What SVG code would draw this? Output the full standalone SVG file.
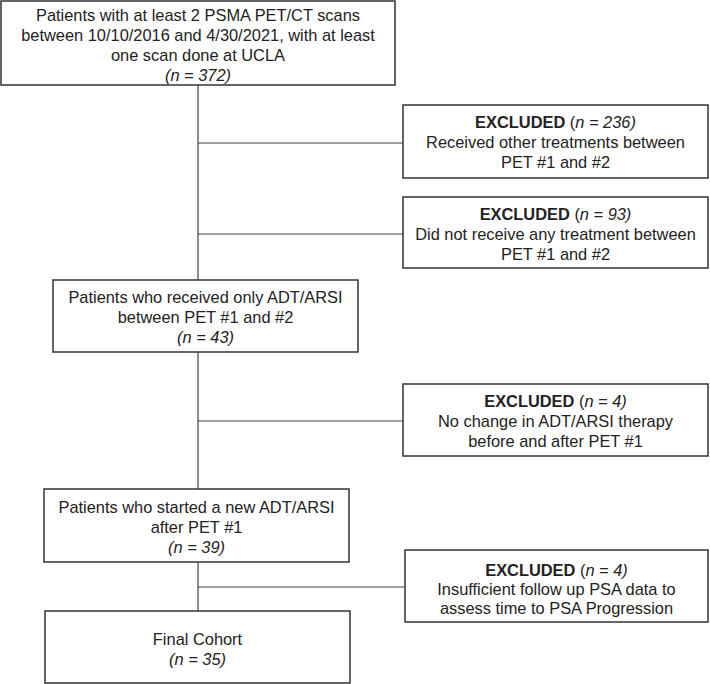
<svg xmlns="http://www.w3.org/2000/svg" width="710" height="684" viewBox="0 0 710 684">
<style>
.box{fill:#fff;stroke:#333;stroke-width:1.5}
.ln{stroke:#444;stroke-width:1.2;fill:none}
text{font-family:"Liberation Sans",Arial,sans-serif;font-size:16.4px;fill:#222;text-anchor:middle}
.b{font-weight:bold}
.i{font-style:italic}
</style>
<rect width="710" height="684" fill="#fff"/>
<g id="connectors">
<line class="ln" x1="198" y1="85" x2="198" y2="280"/>
<line class="ln" x1="198" y1="143" x2="403" y2="143"/>
<line class="ln" x1="198" y1="234" x2="403" y2="234"/>
<line class="ln" x1="198" y1="352" x2="198" y2="489"/>
<line class="ln" x1="198" y1="421" x2="403" y2="421"/>
<line class="ln" x1="198" y1="562" x2="198" y2="611"/>
<line class="ln" x1="198" y1="587" x2="405" y2="587"/>
</g>
<g id="n1">
<rect class="box" x="1" y="1" width="394" height="84"/>
<text x="198" y="21">Patients with at least 2 PSMA PET/CT scans</text>
<text x="198" y="41">between 10/10/2016 and 4/30/2021, with at least</text>
<text x="198" y="61">one scan done at UCLA</text>
<text x="198" y="81" class="i">(n = 372)</text>
</g>
<g id="x1">
<rect class="box" x="403" y="105" width="305" height="73"/>
<text x="555.5" y="128"><tspan class="b">EXCLUDED</tspan> (<tspan class="i">n = 236)</tspan></text>
<text x="555.5" y="148">Received other treatments between</text>
<text x="555.5" y="168">PET #1 and #2</text>
</g>
<g id="x2">
<rect class="box" x="403" y="197" width="305" height="71"/>
<text x="555.5" y="220"><tspan class="b">EXCLUDED</tspan> (<tspan class="i">n = 93)</tspan></text>
<text x="555.5" y="240">Did not receive any treatment between</text>
<text x="555.5" y="260">PET #1 and #2</text>
</g>
<g id="n2">
<rect class="box" x="53" y="280" width="305" height="72"/>
<text x="205.5" y="303">Patients who received only ADT/ARSI</text>
<text x="205.5" y="323">between PET #1 and #2</text>
<text x="205.5" y="343" class="i">(n = 43)</text>
</g>
<g id="x3">
<rect class="box" x="403" y="384" width="305" height="72"/>
<text x="555.5" y="407"><tspan class="b">EXCLUDED</tspan> (<tspan class="i">n = 4)</tspan></text>
<text x="555.5" y="427">No change in ADT/ARSI therapy</text>
<text x="555.5" y="447">before and after PET #1</text>
</g>
<g id="n3">
<rect class="box" x="44" y="489" width="305" height="73"/>
<text x="196.5" y="513">Patients who started a new ADT/ARSI</text>
<text x="196.5" y="533">after PET #1</text>
<text x="196.5" y="553" class="i">(n = 39)</text>
</g>
<g id="x4">
<rect class="box" x="405" y="550" width="303" height="72"/>
<text x="556.5" y="576"><tspan class="b">EXCLUDED</tspan> (<tspan class="i">n = 4)</tspan></text>
<text x="556.5" y="595">Insufficient follow up PSA data to</text>
<text x="556.5" y="614">assess time to PSA Progression</text>
</g>
<g id="n4">
<rect class="box" x="45" y="611" width="305" height="72"/>
<text x="197.5" y="645">Final Cohort</text>
<text x="197.5" y="665" class="i">(n = 35)</text>
</g>
</svg>
